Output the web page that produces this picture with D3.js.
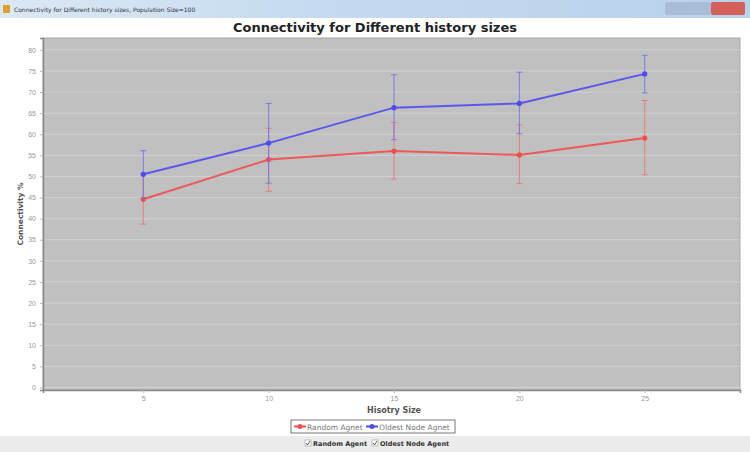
<!DOCTYPE html>
<html>
<head>
<meta charset="utf-8">
<script src="https://cdn.jsdelivr.net/npm/d3@7"></script>
<style>
  body { margin: 0; background: #fff; }
  svg { display: block; font-family: "DejaVu Sans", sans-serif; }
</style>
</head>
<body>
<div id="chart"></div>
<script>
// history sizes on the x axis
var historySizes = [5, 10, 15, 20, 25];
// mean connectivity per agent type
var randomMean = [44.6, 54.0, 56.0, 55.1, 59.1];
var oldestMean = [50.5, 57.9, 66.3, 67.3, 74.3];
// error bar ranges [low, high]
var randomErr = [[38.7, 50.5], [46.5, 61.4], [49.4, 62.8], [48.3, 62.2], [50.4, 68.0]];
var oldestErr = [[44.9, 56.1], [48.4, 67.3], [58.7, 74.1], [60.1, 74.7], [69.8, 78.7]];
var yTicks = d3.range(0, 81, 5);
var seriesNames = ["Random Agnet", "Oldest Node Agnet"];
var checkNames = ["Random Agent", "Oldest Node Agent"];

var W = 750, H = 452;
var margin = { top: 38, right: 10, bottom: 62, left: 43 };

var svg = d3.select("#chart").append("svg")
  .attr("width", W)
  .attr("height", H);

// window title bar
var grad = svg.append("defs").append("linearGradient")
  .attr("id", "tb").attr("x1", 0).attr("x2", 1).attr("y1", 0).attr("y2", 0);
grad.append("stop").attr("offset", "0%").attr("stop-color", "#dbe8f5");
grad.append("stop").attr("offset", "45%").attr("stop-color", "#c4daf0");
grad.append("stop").attr("offset", "100%").attr("stop-color", "#b9d1ea");
svg.append("rect").attr("x", 0).attr("y", 0).attr("width", W).attr("height", 18).attr("fill", "url(#tb)");
svg.append("rect").attr("x", 3).attr("y", 5).attr("width", 7).attr("height", 8).attr("fill", "#e0a030");
svg.append("text").attr("x", 14).attr("y", 12)
  .style("font-size", "6px").attr("fill", "#333")
  .text("Connectivity for Different history sizes, Population Size=100");
svg.append("rect").attr("x", 665).attr("y", 2).attr("width", 46).attr("height", 13).attr("rx", 2).attr("fill", "#a9bed6");
svg.append("rect").attr("x", 711).attr("y", 2).attr("width", 34).attr("height", 13).attr("rx", 2).attr("fill", "#d4605a");

// chart title
svg.append("text")
  .attr("x", W / 2).attr("y", 32)
  .attr("text-anchor", "middle")
  .style("font-size", "13px").style("font-weight", "bold")
  .attr("fill", "#222")
  .text("Connectivity for Different history sizes");

var x = d3.scaleLinear().domain([1, 28.8]).range([margin.left, W - margin.right]);
var y = d3.scaleLinear().domain([-0.6, 82.8]).range([H - margin.bottom, margin.top]);

// plot background
svg.append("rect")
  .attr("x", margin.left).attr("y", margin.top)
  .attr("width", W - margin.right - margin.left)
  .attr("height", H - margin.bottom - margin.top)
  .attr("fill", "#c0c0c0")
  .attr("stroke", "#a8a8a8");

// gridlines
svg.append("g").selectAll("line")
  .data(yTicks)
  .enter().append("line")
  .attr("x1", margin.left).attr("x2", W - margin.right)
  .attr("y1", function (d) { return y(d) }).attr("y2", function (d) { return y(d) })
  .attr("stroke", "#d0d0d0").attr("stroke-width", 1);

// axes
var yAxis = svg.append("g")
  .attr("transform", "translate(" + margin.left + ",0)")
  .call(d3.axisLeft(y).tickValues(yTicks).tickSize(3).tickPadding(4));
var xAxis = svg.append("g")
  .attr("transform", "translate(0," + (H - margin.bottom) + ")")
  .call(d3.axisBottom(x).tickValues(historySizes).tickSize(3).tickPadding(3));
[xAxis, yAxis].forEach(function (a) {
  a.selectAll("text").style("font-size", "7px").attr("fill", "#999");
  a.selectAll("line").attr("stroke", "#b8b8b8");
  a.select(".domain").attr("stroke", "#888").attr("stroke-width", 1.5);
});

svg.append("text")
  .attr("transform", "translate(23," + ((margin.top + H - margin.bottom) / 2) + ") rotate(-90)")
  .attr("text-anchor", "middle")
  .style("font-size", "7.5px").style("font-weight", "bold").attr("fill", "#555")
  .text("Connectivity %");
svg.append("text")
  .attr("x", x(15)).attr("y", 413)
  .attr("text-anchor", "middle")
  .style("font-size", "8px").style("font-weight", "bold").attr("fill", "#555")
  .text("Hisotry Size");

// series
var series = [
  { mean: randomMean, err: randomErr, color: "#f24c4c", errColor: "#ee7272" },
  { mean: oldestMean, err: oldestErr, color: "#4c4cf2", errColor: "#6e6eee" }
];

var line = d3.line()
  .x(function (d, i) { return x(historySizes[i]) })
  .y(function (d) { return y(d) });

series.forEach(function (s) {
  var g = svg.append("g");
  // error bars
  g.selectAll(".eb")
    .data(s.err)
    .enter().append("path")
    .attr("d", function (d, i) {
      var cx = x(historySizes[i]);
      return "M" + (cx - 3) + "," + y(d[1]) + "H" + (cx + 3) +
        "M" + cx + "," + y(d[1]) + "V" + y(d[0]) +
        "M" + (cx - 3) + "," + y(d[0]) + "H" + (cx + 3);
    })
    .attr("fill", "none").attr("stroke", s.errColor).attr("stroke-width", 1).attr("opacity", 0.85);
  g.append("path")
    .datum(s.mean)
    .attr("d", line)
    .attr("fill", "none").attr("stroke", s.color).attr("stroke-width", 2).attr("opacity", 0.9);
  g.selectAll("circle")
    .data(s.mean)
    .enter().append("circle")
    .attr("cx", function (d, i) { return x(historySizes[i]) })
    .attr("cy", function (d) { return y(d) })
    .attr("r", 2.6)
    .attr("fill", s.color);
});

// legend
var lg = svg.append("g");
lg.append("rect").attr("x", 291).attr("y", 420).attr("width", 164).attr("height", 13)
  .attr("fill", "#fff").attr("stroke", "#555").attr("stroke-width", 0.8);
var legendX = [294, 366];
seriesNames.forEach(function (n, i) {
  var lx = legendX[i];
  lg.append("line").attr("x1", lx).attr("x2", lx + 12).attr("y1", 426.5).attr("y2", 426.5)
    .attr("stroke", series[i].color).attr("stroke-width", 2);
  lg.append("circle").attr("cx", lx + 6).attr("cy", 426.5).attr("r", 2.5).attr("fill", series[i].color);
  lg.append("text").attr("x", lx + 13).attr("y", 429.5)
    .style("font-size", "7.5px").attr("fill", "#777").text(n);
});

// bottom panel with check boxes
svg.append("rect").attr("x", 0).attr("y", 436).attr("width", W).attr("height", H - 436).attr("fill", "#ececec");
var checkX = [305, 372];
checkNames.forEach(function (n, i) {
  var cx = checkX[i];
  svg.append("rect").attr("x", cx).attr("y", 440).attr("width", 6).attr("height", 6)
    .attr("fill", "#fff").attr("stroke", "#999").attr("stroke-width", 0.6);
  svg.append("path").attr("d", "M" + (cx + 1) + ",443 L" + (cx + 2.5) + ",445 L" + (cx + 5) + ",441")
    .attr("fill", "none").attr("stroke", "#333").attr("stroke-width", 0.8);
  svg.append("text").attr("x", cx + 8).attr("y", 446)
    .style("font-size", "6.5px").style("font-weight", "bold").attr("fill", "#333").text(n);
});
</script>
</body>
</html>
